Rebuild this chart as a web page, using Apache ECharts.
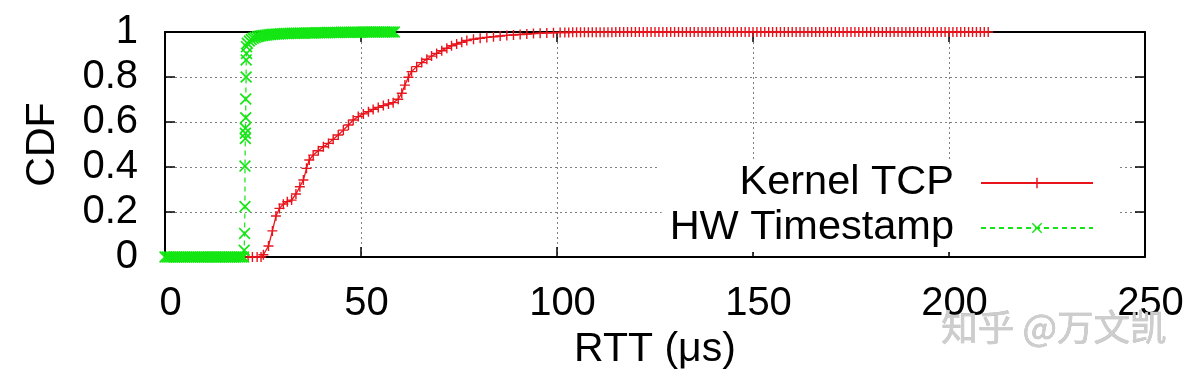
<!DOCTYPE html>
<html><head><meta charset="utf-8">
<script src="https://cdn.jsdelivr.net/npm/echarts@6/dist/echarts.min.js"></script>
<style>html,body{margin:0;padding:0;background:#fff}#c{width:1196px;height:376px}</style>
</head><body><div id="c"></div>
<script>
// ---- data ----
const xTickValues = [0, 50, 100, 150, 200, 250];
const yTickValues = [0, 0.2, 0.4, 0.6, 0.8, 1];
const seriesNames = ['Kernel TCP', 'HW Timestamp'];
const axisNames = ['RTT (μs)', 'CDF'];
const watermark = '知乎 @万文凯';

const tcpX = [21.2, 22.3, 23.5, 24.5, 25.1, 26.4, 27.4, 28.3, 29.2, 30.2, 31.2, 32.3, 33.4, 34.4, 35.3, 36.1, 36.8, 37.8, 39.1, 40.4,
  41.7, 42.9, 44.2, 45.5, 46.8, 48.0, 49.3, 50.6, 51.9, 53.1, 54.4, 55.7, 57.0, 58.2, 59.5, 60.4, 61.2, 62.1, 62.9, 64.2,
  65.5, 66.8, 68.0, 69.3, 70.6, 71.9, 73.1, 74.4, 75.7, 77.0, 78.7, 80.4, 82.1, 83.8, 85.5, 87.2, 88.9, 90.6, 92.3, 94.0,
  95.7, 97.4, 99.1, 100.8,
  102, 103, 104, 105, 106, 107, 108, 109, 110, 111, 112, 113, 114, 115, 116, 117, 118, 119, 120, 121,
  122, 123, 124, 125, 126, 127, 128, 129, 130, 131, 132, 133, 134, 135, 136, 137, 138, 139, 140, 141,
  142, 143, 144, 145, 146, 147, 148, 149, 150, 151, 152, 153, 154, 155, 156, 157, 158, 159, 160, 161,
  162, 163, 164, 165, 166, 167, 168, 169, 170, 171, 172, 173, 174, 175, 176, 177, 178, 179, 180, 181,
  182, 183, 184, 185, 186, 187, 188, 189, 190, 191, 192, 193, 194, 195, 196, 197, 198, 199, 200, 201,
  202, 203, 204, 205, 206, 207, 208, 209, 210];
const tcpY = [0, 0, 0, 0, 0.01, 0.049, 0.116, 0.182, 0.216, 0.235, 0.246, 0.253, 0.28, 0.312, 0.342, 0.394, 0.431, 0.453, 0.472, 0.49,
  0.505, 0.523, 0.542, 0.564, 0.587, 0.609, 0.624, 0.636, 0.646, 0.656, 0.665, 0.673, 0.68, 0.686, 0.701, 0.728, 0.764, 0.799, 0.824, 0.846,
  0.864, 0.879, 0.893, 0.905, 0.917, 0.928, 0.939, 0.947, 0.954, 0.962, 0.968, 0.972, 0.976, 0.979, 0.982, 0.985, 0.987, 0.989, 0.991, 0.993,
  0.995, 0.996, 0.997, 0.998,
  0.998, 0.998, 0.999, 0.999, 0.999, 0.999, 0.999, 0.999, 0.999, 0.999, 0.999, 0.999, 0.999, 1, 1, 1, 1, 1, 1, 1,
  1, 1, 1, 1, 1, 1, 1, 1, 1, 1, 1, 1, 1, 1, 1, 1, 1, 1, 1, 1,
  1, 1, 1, 1, 1, 1, 1, 1, 1, 1, 1, 1, 1, 1, 1, 1, 1, 1, 1, 1,
  1, 1, 1, 1, 1, 1, 1, 1, 1, 1, 1, 1, 1, 1, 1, 1, 1, 1, 1, 1,
  1, 1, 1, 1, 1, 1, 1, 1, 1, 1, 1, 1, 1, 1, 1, 1, 1, 1, 1, 1,
  1, 1, 1, 1, 1, 1, 1, 1, 1];

const hwX = [0, 0.5, 1, 1.5, 2, 2.5, 3, 3.5, 4, 4.5, 5, 5.5, 6, 6.5, 7, 7.5, 8, 8.5, 9, 9.5,
  10, 10.5, 11, 11.5, 12, 12.5, 13, 13.5, 14, 14.5, 15, 15.5, 16, 16.5, 17, 17.5, 18, 18.5, 19, 19.5, 20,
  20.2, 20.3, 20.4, 20.4, 20.5, 20.5, 20.5, 20.6, 20.6, 20.7, 20.7, 20.8, 20.8,
  21, 21.5, 22, 22.5, 23, 23.5, 24, 24.5, 25, 25.5, 26, 26.5, 27, 27.5, 28, 28.5, 29, 29.5, 30,
  30.5, 31, 31.5, 32, 32.5, 33, 33.5, 34, 34.5, 35, 35.5, 36, 36.5, 37, 37.5, 38, 38.5, 39, 39.5, 40,
  40.5, 41, 41.5, 42, 42.5, 43, 43.5, 44, 44.5, 45, 45.5, 46, 46.5, 47, 47.5, 48, 48.5, 49, 49.5, 50,
  50.5, 51, 51.5, 52, 52.5, 53, 53.5, 54, 54.5, 55, 55.5, 56, 56.5, 57, 57.5, 58, 58.5];
const hwY = [0, 0, 0, 0, 0, 0, 0, 0, 0, 0, 0, 0, 0, 0, 0, 0, 0, 0, 0, 0,
  0, 0, 0, 0, 0, 0, 0, 0, 0, 0, 0, 0, 0, 0, 0, 0, 0, 0, 0, 0, 0,
  0.03, 0.105, 0.224, 0.404, 0.527, 0.55, 0.572, 0.619, 0.702, 0.8, 0.876, 0.905, 0.935,
  0.95, 0.96, 0.967, 0.972, 0.976, 0.979, 0.981, 0.983, 0.985, 0.986, 0.987, 0.988, 0.989, 0.99, 0.99, 0.991, 0.991, 0.992, 0.992,
  0.993, 0.993, 0.993, 0.994, 0.994, 0.994, 0.994, 0.995, 0.995, 0.995, 0.995, 0.996, 0.996, 0.996, 0.996, 0.996, 0.997, 0.997, 0.997, 0.997,
  0.997, 0.997, 0.998, 0.998, 0.998, 0.998, 0.998, 0.998, 0.998, 0.999, 0.999, 0.999, 0.999, 0.999, 0.999, 0.999, 0.999, 0.999, 0.999, 0.999,
  1, 1, 1, 1, 1, 1, 1, 1, 1, 1, 1, 1, 1, 1, 1, 1, 1];

// ---- style ----
const FONT = '"Liberation Sans", Arial, sans-serif';
const RED = '#e8141c';
const GREEN = '#14e614';
const plusPath = 'path://M4.3,0L5.7,0L5.7,4.3L10,4.3L10,5.7L5.7,5.7L5.7,10L4.3,10L4.3,5.7L0,5.7L0,4.3L4.3,4.3Z';
const crossPath = 'path://M0,1L1,0L5,4L9,0L10,1L6,5L10,9L9,10L5,6L1,10L0,9L4,5Z';

const chart = echarts.init(document.getElementById('c'), null, {renderer: 'canvas'});

const axisLine = {show: true, onZero: false, lineStyle: {color: '#000', width: 2}};
const axisTick = {show: true, inside: true, length: 10, lineStyle: {color: '#000', width: 1.5}};
const splitLine = {show: true, lineStyle: {color: '#808080', width: 1, type: [2, 3]}};
const xMin = xTickValues[0], xMax = xTickValues[xTickValues.length - 1], xInt = xTickValues[1] - xTickValues[0];
const yMin = yTickValues[0], yMax = yTickValues[yTickValues.length - 1], yInt = yTickValues[1] - yTickValues[0];

const legendText = {fontSize: 41.5, fontFamily: FONT, color: '#000', padding: [0, 22, 0, 0]};

chart.setOption({
  animation: false,
  backgroundColor: '#fff',
  grid: {left: 165, right: 51, top: 32, bottom: 119, containLabel: false},
  xAxis: [
    {type: 'value', min: xMin, max: xMax, interval: xInt, position: 'bottom',
     axisLine, axisTick, splitLine,
     axisLabel: {fontSize: 40, color: '#000', fontFamily: FONT, margin: 27, padding: [0, 0, 0, 11]},
     name: axisNames[0], nameLocation: 'middle', nameGap: 61,
     nameTextStyle: {fontSize: 41, color: '#000', fontFamily: FONT}},
    {type: 'value', min: xMin, max: xMax, interval: xInt, position: 'top',
     axisLine, axisTick, splitLine: {show: false}, axisLabel: {show: false}}
  ],
  yAxis: [
    {type: 'value', min: yMin, max: yMax, interval: yInt, position: 'left',
     axisLine, axisTick, splitLine,
     axisLabel: {fontSize: 40, color: '#000', fontFamily: FONT, margin: 27},
     name: axisNames[1], nameLocation: 'middle', nameGap: 102, nameRotate: 90,
     nameTextStyle: {fontSize: 41, color: '#000', fontFamily: FONT}},
    {type: 'value', min: yMin, max: yMax, interval: yInt, position: 'right',
     axisLine, axisTick, splitLine: {show: false}, axisLabel: {show: false}}
  ],
  legend: [
    {data: [seriesNames[0]], right: 78, top: 159, orient: 'horizontal', align: 'right',
     itemWidth: 112, itemHeight: 13, padding: [3, 24, 2, 80], backgroundColor: '#fff',
     textStyle: legendText, selectedMode: false, z: 10},
    {data: [seriesNames[1]], right: 78, top: 202, orient: 'horizontal', align: 'right',
     itemWidth: 112, itemHeight: 13, padding: [5, 24, 3, 8], backgroundColor: '#fff',
     textStyle: legendText, selectedMode: false, z: 10}
  ],
  series: [
    {name: seriesNames[0], type: 'line', xAxisIndex: 0, yAxisIndex: 0,
     data: tcpX.map((x, i) => [x, tcpY[i]]),
     symbol: plusPath, symbolSize: 10, showSymbol: true,
     lineStyle: {color: RED, width: 1.3}, itemStyle: {color: RED},
     clip: false, z: 3},
    {name: seriesNames[1], type: 'line', xAxisIndex: 0, yAxisIndex: 0,
     data: hwX.map((x, i) => [x, hwY[i]]),
     symbol: crossPath, symbolSize: 12, showSymbol: true,
     lineStyle: {color: GREEN, width: 1.2, type: [5, 4]}, itemStyle: {color: GREEN},
     clip: false, z: 4}
  ],
  graphic: [
    {type: 'text', left: 941, top: 309, z: 20,
     style: {text: watermark, fontSize: 36.5, fontFamily: '"Noto Sans CJK SC", sans-serif',
             fill: '#cdcdcd', stroke: '#b4b4b4', lineWidth: 0.6}}
  ]
});
</script>
</body></html>
